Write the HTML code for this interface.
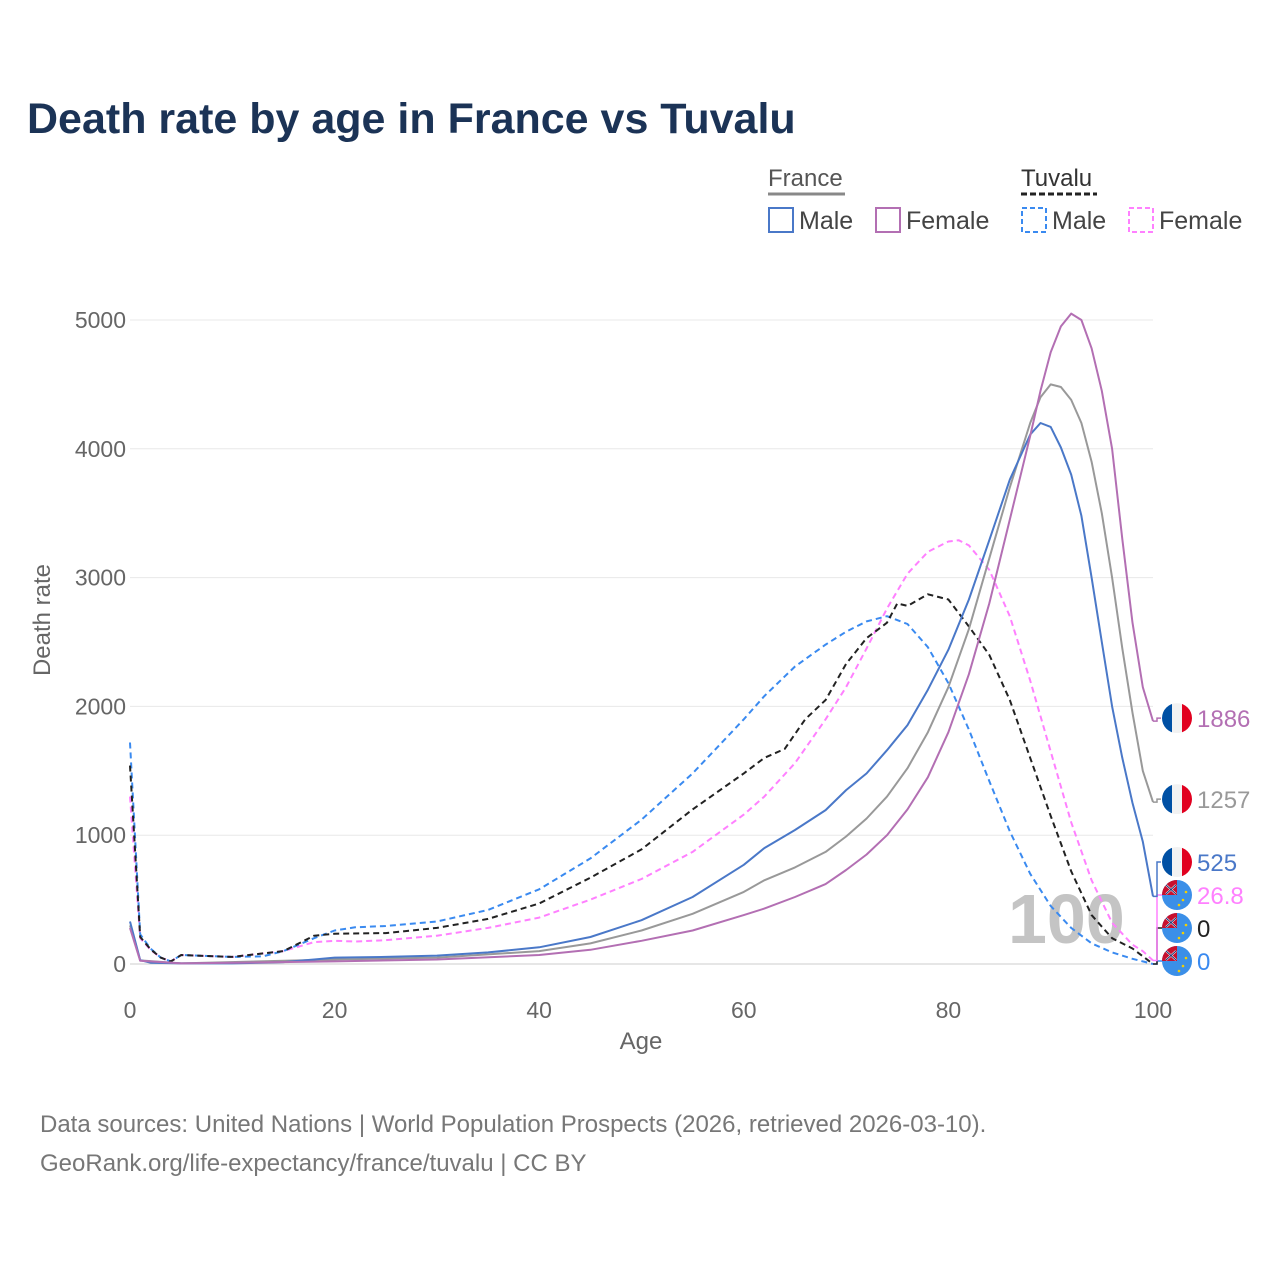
<!DOCTYPE html>
<html><head><meta charset="utf-8">
<style>
body{margin:0;background:#fff;font-family:"Liberation Sans",sans-serif;}
#wrap{position:relative;width:1280px;height:1280px;overflow:hidden;}
</style></head>
<body><div id="wrap">
<svg id="chart" width="1280" height="1280" font-family="Liberation Sans, sans-serif">
<text x="27" y="133" font-size="43" font-weight="bold" fill="#1b3356">Death rate by age in France vs Tuvalu</text>
<g>
<text x="768" y="186" font-size="24" fill="#555">France</text>
<line x1="768" y1="194" x2="845" y2="194" stroke="#888" stroke-width="3"/>
<text x="1021" y="186" font-size="24" fill="#333">Tuvalu</text>
<line x1="1021" y1="194" x2="1097" y2="194" stroke="#222" stroke-width="3" stroke-dasharray="6,3"/>
<rect x="769" y="208" width="24" height="24" fill="none" stroke="#4a78c8" stroke-width="2"/>
<text x="799" y="229" font-size="25" fill="#444">Male</text>
<rect x="876" y="208" width="24" height="24" fill="none" stroke="#b36fb3" stroke-width="2"/>
<text x="906" y="229" font-size="25" fill="#444">Female</text>
<rect x="1022" y="208" width="24" height="24" fill="none" stroke="#3a8af0" stroke-width="2" stroke-dasharray="5,3"/>
<text x="1052" y="229" font-size="25" fill="#444">Male</text>
<rect x="1129" y="208" width="24" height="24" fill="none" stroke="#ff80ff" stroke-width="2" stroke-dasharray="5,3"/>
<text x="1159" y="229" font-size="25" fill="#444">Female</text>
</g>
<g id="grid"></g>
<text x="1008" y="943" font-size="70" font-weight="bold" fill="#c4c4c4">100</text>
<g id="series"></g>
<g id="labels"></g>
<text x="641" y="1049" font-size="24" fill="#666" text-anchor="middle">Age</text>
<text transform="translate(50,620) rotate(-90)" font-size="24" fill="#666" text-anchor="middle">Death rate</text>
<text x="40" y="1132" font-size="24" fill="#777">Data sources: United Nations | World Population Prospects (2026, retrieved 2026-03-10).</text>
<text x="40" y="1171" font-size="24" fill="#777">GeoRank.org/life-expectancy/france/tuvalu | CC BY</text>
</svg>
</div>
<script>
const xTicks=[0,20,40,60,80,100];
const yTicks=[0,1000,2000,3000,4000,5000];
const frMaleAges=[0,1,2,5,10,15,18,20,25,30,35,40,45,50,55,60,62,65,68,70,72,74,76,78,80,82,84,86,88,89,90,91,92,93,94,95,96,97,98,99,100];
const frMaleVals=[330,30,10,5,5,15,35,50,55,65,90,130,210,340,520,770,900,1040,1195,1350,1480,1660,1855,2130,2440,2830,3290,3760,4110,4200,4170,4010,3800,3480,3000,2500,2000,1600,1250,950,525];
const frFemaleAges=[0,1,5,20,30,40,45,50,55,60,62,65,68,70,72,74,76,78,80,82,84,86,88,89,90,91,92,93,94,95,96,97,98,99,100];
const frFemaleVals=[280,25,5,20,35,70,110,180,260,380,430,520,620,730,850,1000,1200,1450,1800,2250,2800,3450,4100,4450,4750,4950,5050,5000,4780,4450,4000,3300,2650,2150,1886];
const frTotalAges=[0,1,5,20,30,40,45,50,55,60,62,65,68,70,72,74,76,78,80,82,84,86,88,89,90,91,92,93,94,95,96,97,98,99,100];
const frTotalVals=[300,28,5,35,50,100,160,260,390,560,650,750,870,990,1130,1300,1520,1800,2150,2600,3150,3700,4200,4400,4500,4480,4380,4200,3900,3500,3000,2450,1950,1500,1257];
const tvMaleAges=[0,1,2,3,4,5,10,13,15,18,20,22,25,30,35,40,45,50,55,60,62,65,68,70,72,74,76,78,80,82,84,86,88,90,92,94,96,98,100];
const tvMaleVals=[1720,230,120,50,20,70,55,60,100,200,260,285,295,330,420,580,820,1120,1480,1900,2080,2310,2480,2580,2660,2700,2640,2460,2180,1820,1420,1030,700,450,280,160,90,40,0];
const tvFemaleAges=[0,1,2,3,4,5,10,15,18,20,22,25,30,35,40,45,50,55,60,62,65,68,70,72,74,76,78,80,81,82,84,86,88,90,92,94,96,98,99,100];
const tvFemaleVals=[1300,200,110,50,20,70,55,100,170,180,175,185,220,280,360,500,660,870,1160,1300,1560,1900,2150,2450,2760,3030,3200,3280,3290,3250,3060,2700,2200,1650,1100,650,320,150,100,26.8];
const tvTotalAges=[0,1,2,3,4,5,10,15,18,20,25,30,35,40,45,50,55,60,62,64,66,68,70,72,74,75,76,78,80,82,84,86,88,90,92,94,96,98,100];
const tvTotalVals=[1540,210,115,50,20,70,55,100,220,235,240,280,350,470,670,890,1200,1480,1600,1670,1900,2050,2330,2530,2650,2800,2780,2870,2830,2620,2400,2050,1600,1150,720,380,200,120,0];
const endLabels=["1886","1257","525","26.8","0","0"];

const NS="http://www.w3.org/2000/svg";
const X=a=>130+a*10.23;
const Y=v=>964-v*0.1288;
function mk(tag,attrs,parent){const e=document.createElementNS(NS,tag);for(const k in attrs)e.setAttribute(k,attrs[k]);parent.appendChild(e);return e;}
const grid=document.getElementById('grid');
yTicks.forEach(t=>{
 const l=mk('line',{x1:130,x2:1153,y1:Y(t),y2:Y(t),stroke:t===0?'#ccc':'#e8e8e8','stroke-width':1},grid);
 
 
 const tx=mk('text',{x:126,y:Y(t)+8,'font-size':23,fill:'#666','text-anchor':'end'},grid);
 tx.textContent=t;
 
 
});
xTicks.forEach(t=>{
 const tx=mk('text',{x:X(t),y:1018,'font-size':23,fill:'#666','text-anchor':'middle'},grid);
 tx.textContent=t;
 
 
});
const S=document.getElementById('series');
const series=[
 {n:'tuvalu-female-line',a:tvFemaleAges,v:tvFemaleVals,c:'#ff80ff',d:'6,4',flag:'tv'},
 {n:'tuvalu-male-line',a:tvMaleAges,v:tvMaleVals,c:'#3a8af0',d:'6,4',flag:'tv'},
 {n:'tuvalu-total-line',a:tvTotalAges,v:tvTotalVals,c:'#222',d:'6,4',flag:'tv'},
 {n:'france-total-line',a:frTotalAges,v:frTotalVals,c:'#999',d:'',flag:'fr'},
 {n:'france-male-line',a:frMaleAges,v:frMaleVals,c:'#4a78c8',d:'',flag:'fr'},
 {n:'france-female-line',a:frFemaleAges,v:frFemaleVals,c:'#b36fb3',d:'',flag:'fr'}
];
series.forEach(s=>{
 const d=s.a.map((a,i)=>(i?'L':'M')+X(a).toFixed(1)+','+Y(s.v[i]).toFixed(1)).join('');
 const p=mk('path',{d:d,fill:'none',stroke:s.c,'stroke-width':2,'stroke-dasharray':s.d,'stroke-linejoin':'round'},S);
 
 
});
const L=document.getElementById('labels');
const ends=series.map((s,i)=>({s:s,val:s.v[s.v.length-1],i:i}));
ends.sort((a,b)=>a.val-b.val);
let prev=1e9;
ends.forEach(e=>{
 let y=Math.min(Y(e.val),prev-33);
 prev=y;
 e.y=y;
});
ends.forEach(e=>{
 const y0=Y(e.val),y=e.y-3;
 const c=mk('path',{d:`M1153,${y0}H1157V${y}H1163`,fill:'none',stroke:e.s.c,'stroke-width':1.5},L);
 
 
 const g=mk('g',{transform:`translate(1177,${y})`},L);
 
 
 if(e.s.flag==='fr'){
  mk('rect',{x:-15,y:-15,width:10,height:30,fill:'#0050a4'},g);
  mk('rect',{x:-5,y:-15,width:10,height:30,fill:'#f2f2f2'},g);
  mk('rect',{x:5,y:-15,width:10,height:30,fill:'#e1001f'},g);
  mk('path',{d:'M-16,-16H16V16H-16ZM-15,0A15,15 0 1,0 15,0A15,15 0 1,0 -15,0Z',fill:'#fff','fill-rule':'evenodd'},g);
 } else {
  mk('circle',{cx:0,cy:0,r:15,fill:'#3b8fe8'},g);
  mk('path',{d:'M-15,0A15,15 0 0,1 0,-15V0Z',fill:'#c8102e'},g);
  mk('path',{d:'M-11,-10L-1,-1M-11,-1L-1,-10',stroke:'#fff','stroke-width':2},g);
  mk('path',{d:'M-11,-10L-1,-1M-11,-1L-1,-10',stroke:'#1c2f6e','stroke-width':1},g);
  mk('circle',{cx:6,cy:5,r:1.3,fill:'#f5d000'},g);
  mk('circle',{cx:9,cy:-3,r:1.3,fill:'#f5d000'},g);
  mk('circle',{cx:2,cy:10,r:1.3,fill:'#f5d000'},g);
 }
 const t=mk('text',{x:1197,y:y+9,'font-size':24,fill:e.s.c},L);
 t.textContent=endLabels[e.s.n==='france-female-line'?0:e.s.n==='france-total-line'?1:e.s.n==='france-male-line'?2:e.s.n==='tuvalu-female-line'?3:e.s.n==='tuvalu-total-line'?4:5];
 
 
});
</script>
</body></html>
